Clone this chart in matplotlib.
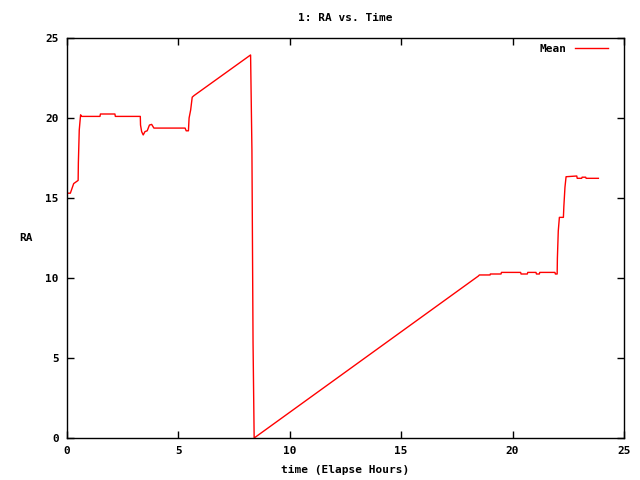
import matplotlib
matplotlib.use("Agg")
import matplotlib.pyplot as plt

# elapsed hours and mean RA
hours = [0.0, 0.15, 0.2, 0.3, 0.5, 0.51, 0.55, 0.61, 0.65,
         1.48, 1.5, 2.15, 2.17, 3.29, 3.3, 3.35, 3.42, 3.5, 3.6, 3.7, 3.8, 3.9,
         5.3, 5.35, 5.45, 5.48, 5.55, 5.62, 5.7,
         8.24, 8.3, 8.35, 8.4,
         18.46, 18.51,
         18.99, 19.0, 19.48, 19.5, 20.36, 20.38, 20.66, 20.68, 21.05, 21.07,
         21.2, 21.22, 21.9, 21.92, 22.0, 22.01, 22.05, 22.1, 22.28, 22.3,
         22.35, 22.4, 22.88, 22.9, 23.1, 23.12, 23.28, 23.3, 23.85]
ra_mean = [15.3, 15.3, 15.5, 15.9, 16.1, 17.2, 19.25, 20.2, 20.1,
           20.1, 20.25, 20.25, 20.1, 20.1, 19.56, 19.15, 18.94, 19.15, 19.2, 19.56, 19.6, 19.37,
           19.37, 19.2, 19.2, 20.0, 20.5, 21.3, 21.4,
           23.94, 18.0, 6.0, 0.0,
           10.12, 10.19,
           10.19, 10.25, 10.25, 10.35, 10.35, 10.25, 10.25, 10.35, 10.35, 10.25,
           10.25, 10.35, 10.35, 10.25, 10.25, 11.23, 12.94, 13.79, 13.79, 14.46,
           15.67, 16.33, 16.375, 16.23, 16.23, 16.3, 16.3, 16.23, 16.23]

font = {"family": "DejaVu Sans Mono", "weight": "bold", "size": 8}

fig = plt.figure(figsize=(6.4, 4.8), dpi=100)
ax = fig.add_axes([67 / 640, 1 - 438 / 480, 557 / 640, 400 / 480])

ax.plot(hours, ra_mean, color="red", linewidth=1, label="Mean")

ax.set_xlim(0, 25)
ax.set_ylim(0, 25)
ax.set_xticks([0, 5, 10, 15, 20, 25])
ax.set_yticks([0, 5, 10, 15, 20, 25])
ax.tick_params(direction="in", top=True, right=True, length=5, width=1, pad=6)
for lab in ax.get_xticklabels() + ax.get_yticklabels():
    lab.set_fontproperties(font)
for s in ax.spines.values():
    s.set_linewidth(1)

ax.set_title("1: RA vs. Time", fontdict=font, pad=12)
ax.set_xlabel("time (Elapse Hours)", fontdict=font, labelpad=6)
ax.set_ylabel("RA", fontdict=font, rotation=0, labelpad=14, va="center")

leg = ax.legend(loc="upper right", frameon=False, prop=font, markerfirst=False,
                handlelength=3.0, borderaxespad=0.3,
                bbox_to_anchor=(1 - 8 / 557, 1 + 2 / 400))

fig.savefig("out.png", dpi=100)
